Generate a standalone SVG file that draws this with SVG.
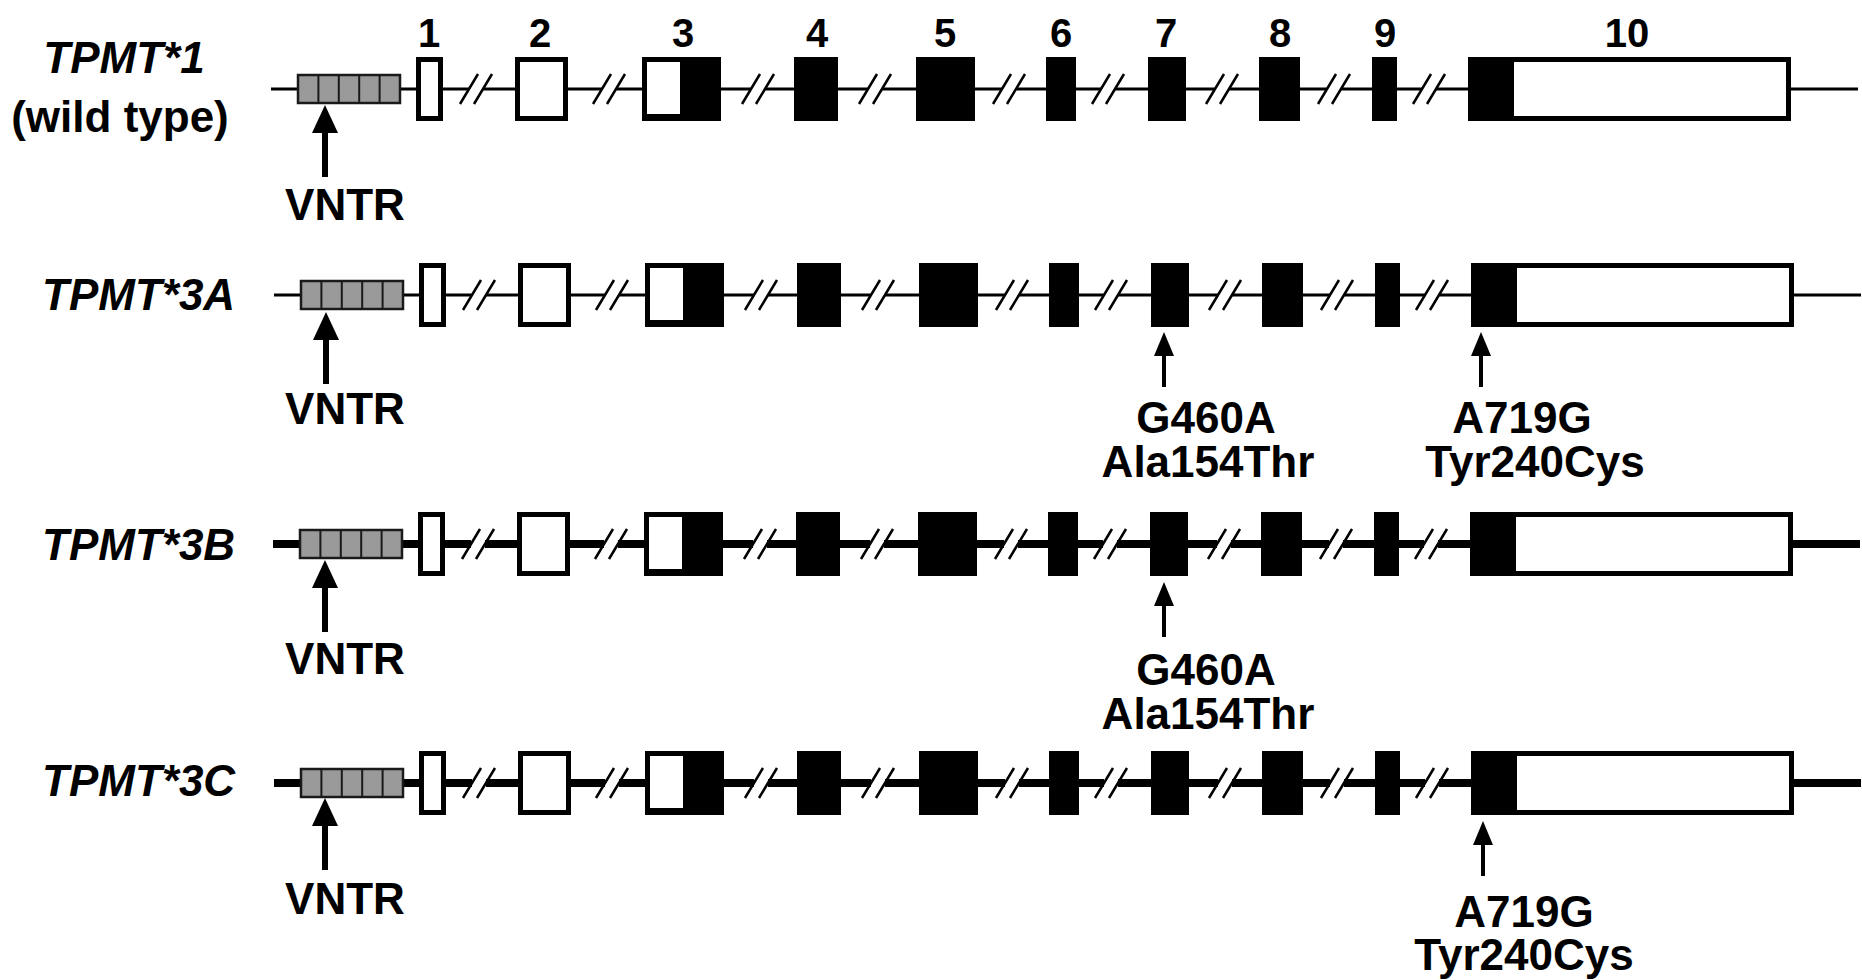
<svg xmlns="http://www.w3.org/2000/svg" xmlns:xlink="http://www.w3.org/1999/xlink" width="1862" height="980" viewBox="0 0 1862 980">
<style>
text{font-family:"Liberation Sans",Arial,sans-serif;font-weight:bold;fill:#000;font-size:44px}
.num{font-size:40px;text-anchor:middle}
.mid{text-anchor:middle}
.it{font-style:italic}
.bb{fill:none;stroke:#000}
.thin{stroke-width:3}
.thick{stroke-width:8}
.sl{fill:none;stroke:#000;stroke-width:2.5}
.ex{fill:#000}
.wx{fill:#fff;stroke:#000;stroke-width:5}
.vn{fill:#9a9a9a;stroke:#1a1a1a;stroke-width:2.5}
.vl{stroke:#1a1a1a;stroke-width:2}
</style>
<defs>
<path id="backbone" d="M271 0H469M483 0H602M616 0H751M765 0H868M882 0H1002M1016 0H1101M1115 0H1215M1229 0H1327M1341 0H1422M1436 0H1858"/>
<path id="slashes" class="sl" d="M460 15L478 -15M474 15L492 -15M593 15L611 -15M607 15L625 -15M742 15L760 -15M756 15L774 -15M859 15L877 -15M873 15L891 -15M993 15L1011 -15M1007 15L1025 -15M1092 15L1110 -15M1106 15L1124 -15M1206 15L1224 -15M1220 15L1238 -15M1318 15L1336 -15M1332 15L1350 -15M1413 15L1431 -15M1427 15L1445 -15"/>
<g id="vntr">
<rect class="vn" x="298" y="-14" width="102" height="28"/>
<path class="vl" d="M318.4 -14V14M338.8 -14V14M359.2 -14V14M379.6 -14V14"/>
</g>
<g id="exons">
<rect class="wx" x="418.5" y="-29.5" width="22" height="59"/>
<rect class="wx" x="517.5" y="-29.5" width="48" height="59"/>
<rect class="ex" x="642" y="-32" width="79" height="64"/>
<rect fill="#fff" x="647" y="-27" width="33" height="52"/>
<rect class="ex" x="794" y="-32" width="44" height="64"/>
<rect class="ex" x="916" y="-32" width="59" height="64"/>
<rect class="ex" x="1046" y="-32" width="30" height="64"/>
<rect class="ex" x="1148" y="-32" width="38" height="64"/>
<rect class="ex" x="1259" y="-32" width="41" height="64"/>
<rect class="ex" x="1372" y="-32" width="25" height="64"/>
<rect class="wx" x="1470.5" y="-29.5" width="318" height="59"/>
<rect class="ex" x="1468" y="-32" width="46" height="64"/>
</g>
<g id="arrowV">
<path d="M0 20V72" stroke="#000" stroke-width="6"/>
<polygon points="0,0 -13,28 13,28" fill="#000"/>
</g>
<g id="arrowM">
<path d="M0 18V55" stroke="#000" stroke-width="4"/>
<polygon points="0,0 -10,24 10,24" fill="#000"/>
</g>
</defs>

<g id="exon-numbers">
<text class="num" x="429" y="47">1</text>
<text class="num" x="540" y="47">2</text>
<text class="num" x="683" y="47">3</text>
<text class="num" x="817" y="47">4</text>
<text class="num" x="945" y="47">5</text>
<text class="num" x="1061" y="47">6</text>
<text class="num" x="1166" y="47">7</text>
<text class="num" x="1280" y="47">8</text>
<text class="num" x="1385" y="47">9</text>
<text class="num" x="1627" y="47">10</text>
</g>

<g id="row-tpmt1" transform="translate(0,89)">
<text class="mid it" x="124" y="-16">TPMT*1</text>
<text class="mid" x="120" y="43">(wild type)</text>
<use xlink:href="#backbone" class="bb thin"/>
<use xlink:href="#slashes"/>
<use xlink:href="#vntr"/>
<use xlink:href="#exons"/>
<g id="connectors-r1"><use xlink:href="#arrowV" x="325" y="16"/></g>
<text class="mid" x="345" y="131">VNTR</text>
</g>

<g id="row-tpmt3a" transform="translate(3,295)">
<text class="it" x="39" y="15">TPMT*3A</text>
<use xlink:href="#backbone" class="bb thin"/>
<use xlink:href="#slashes"/>
<use xlink:href="#vntr"/>
<use xlink:href="#exons"/>
<g id="connectors-r2">
<use xlink:href="#arrowV" x="323" y="17"/>
<use xlink:href="#arrowM" x="1161" y="37"/>
<use xlink:href="#arrowM" x="1478" y="37"/>
</g>
<text class="mid" x="342" y="129">VNTR</text>
<text class="mid" x="1203" y="138">G460A</text>
<text class="mid" x="1205" y="182">Ala154Thr</text>
<text class="mid" x="1519" y="138">A719G</text>
<text class="mid" x="1532" y="182">Tyr240Cys</text>
</g>

<g id="row-tpmt3b" transform="translate(2,544)">
<text class="it" x="40" y="16">TPMT*3B</text>
<use xlink:href="#backbone" class="bb thick"/>
<use xlink:href="#slashes"/>
<use xlink:href="#vntr"/>
<use xlink:href="#exons"/>
<g id="connectors-r3">
<use xlink:href="#arrowV" x="323" y="16"/>
<use xlink:href="#arrowM" x="1162" y="38"/>
</g>
<text class="mid" x="343" y="130">VNTR</text>
<text class="mid" x="1204" y="141">G460A</text>
<text class="mid" x="1206" y="185">Ala154Thr</text>
</g>

<g id="row-tpmt3c" transform="translate(3,783)">
<text class="it" x="39" y="13">TPMT*3C</text>
<use xlink:href="#backbone" class="bb thick"/>
<use xlink:href="#slashes"/>
<use xlink:href="#vntr"/>
<use xlink:href="#exons"/>
<g id="connectors-r4">
<use xlink:href="#arrowV" x="322" y="15"/>
<use xlink:href="#arrowM" x="1480" y="38"/>
</g>
<text class="mid" x="342" y="131">VNTR</text>
<text class="mid" x="1521" y="144">A719G</text>
<text class="mid" x="1521" y="187">Tyr240Cys</text>
</g>
</svg>
